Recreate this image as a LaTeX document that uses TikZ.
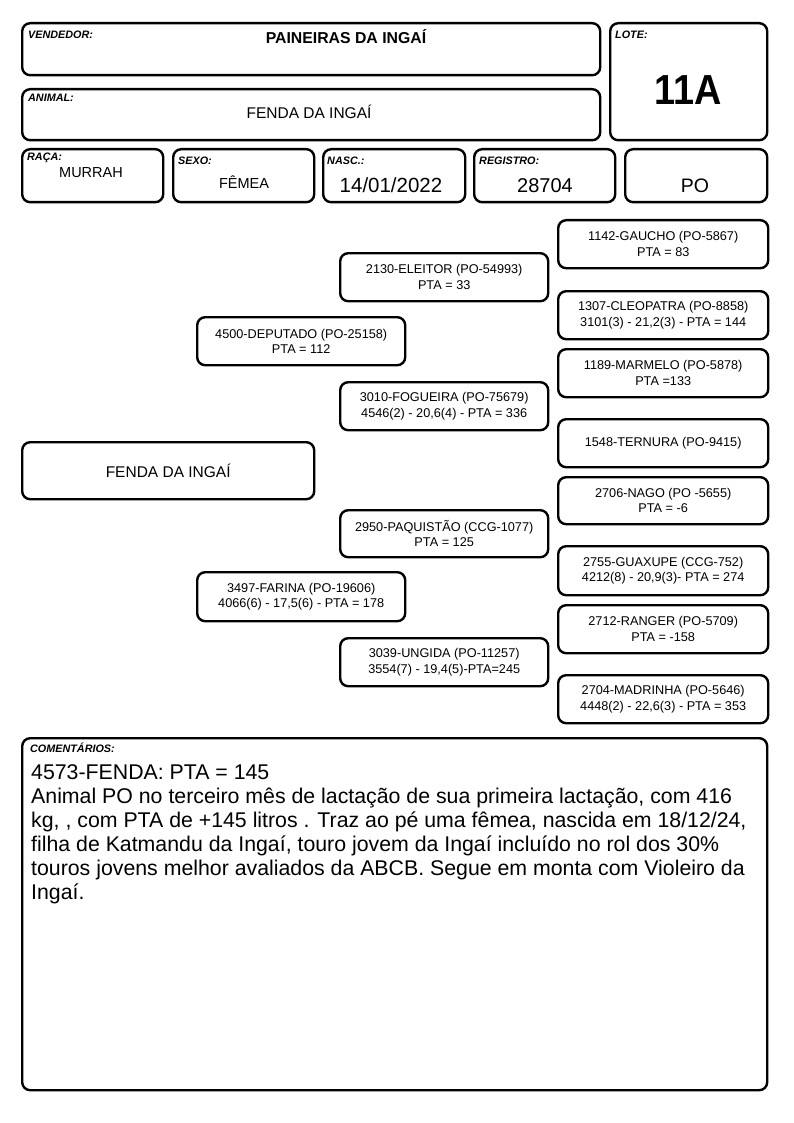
\documentclass[tikz,border=0pt]{standalone}
\usepackage{fontspec}
\usepackage{graphicx}
\setmainfont{Liberation Sans}
\begin{document}
\begin{tikzpicture}[x=1pt,y=-1pt,
  box/.style={draw, line width=2.4pt, rounded corners=8pt, inner sep=0pt, anchor=north west},
  lab/.style={font=\fontsize{10.8}{12}\selectfont\bfseries\itshape, anchor=base west, inner sep=0pt},
  val/.style={anchor=base, inner sep=0pt},
  ped/.style={box, minimum width=208pt, minimum height=48pt, align=center, font=\fontsize{12.7}{15.5}\selectfont},
  pedr/.style={ped, minimum width=210pt}]
\useasboundingbox (0,0) rectangle (794,1123);
% header boxes
\node[box, minimum width=578pt, minimum height=52pt] (vend) at (21,22) {};
\node[box, minimum width=157pt, minimum height=117pt] (lote) at (609,22) {};
\node[box, minimum width=578pt, minimum height=51pt] (animal) at (21,88) {};
\node[box, minimum width=141pt, minimum height=53pt] (raca) at (21,148) {};
\node[box, minimum width=141pt, minimum height=53pt] (sexo) at (172,148) {};
\node[box, minimum width=142pt, minimum height=53pt] (nasc) at (322,148) {};
\node[box, minimum width=141pt, minimum height=53pt] (reg) at (473,148) {};
\node[box, minimum width=142pt, minimum height=53pt] (po) at (624,148) {};
% labels
\node[lab] (lvend) at (28,39) {VENDEDOR:};
\node[lab] (llote) at (615,39) {LOTE:};
\node[lab] (lanimal) at (28,102) {ANIMAL:};
\node[lab] (lraca) at (27,161) {RAÇA:};
\node[lab] (lsexo) at (178,165) {SEXO:};
\node[lab] (lnasc) at (327,165) {NASC.:};
\node[lab] (lreg) at (479,165) {REGISTRO:};
% values
\node[val, font=\fontsize{15.8}{18}\selectfont\bfseries] (vvend) at (346,43.5) {PAINEIRAS DA INGAÍ};
\node[val, font=\fontsize{42}{42}\selectfont\bfseries] (vlote) at (688.5,105) {\scalebox{0.9}[1]{11A}};
\node[val, font=\fontsize{15.5}{18}\selectfont] (vanimal) at (309,119) {FENDA DA INGAÍ};
\node[val, font=\fontsize{14.5}{17}\selectfont] (vraca) at (91,178) {MURRAH};
\node[val, font=\fontsize{14.5}{17}\selectfont] (vsexo) at (244,189) {FÊMEA};
\node[val, font=\fontsize{20.5}{24}\selectfont] (vnasc) at (391,193) {14/01/2022};
\node[val, font=\fontsize{20}{24}\selectfont] (vreg) at (545,193) {28704};
\node[val, font=\fontsize{19.5}{24}\selectfont] (vpo) at (695,193) {PO};
% pedigree
\node[box, minimum width=292pt, minimum height=57pt, font=\fontsize{15.5}{18}\selectfont] (fenda) at (21,441) {FENDA DA INGAÍ};
\node[ped] (deputado) at (196,316) {4500-DEPUTADO (PO-25158)\\PTA = 112};
\node[ped, minimum height=49pt] (farina) at (196,571) {3497-FARINA (PO-19606)\\4066(6) - 17,5(6) - PTA = 178};
\node[ped] (eleitor) at (339,252) {2130-ELEITOR (PO-54993)\\PTA = 33};
\node[ped] (fogueira) at (339,381) {3010-FOGUEIRA (PO-75679)\\4546(2) - 20,6(4) - PTA = 336};
\node[ped, minimum height=47pt] (paquistao) at (339,509) {2950-PAQUISTÃO (CCG-1077)\\PTA = 125};
\node[ped] (ungida) at (339,637) {3039-UNGIDA (PO-11257)\\3554(7) - 19,4(5)-PTA=245};
\node[pedr] (gaucho) at (557,219) {1142-GAUCHO (PO-5867)\\PTA = 83};
\node[pedr] (cleopatra) at (557,290) {1307-CLEOPATRA (PO-8858)\\3101(3) - 21,2(3) - PTA = 144};
\node[pedr] (marmelo) at (557,348) {1189-MARMELO (PO-5878)\\PTA =133};
\node[pedr] (ternura) at (557,418) {1548-TERNURA (PO-9415)};
\node[pedr, minimum height=47pt] (nago) at (557,476) {2706-NAGO (PO -5655)\\PTA = -6};
\node[pedr, minimum height=49pt] (guaxupe) at (557,545) {2755-GUAXUPE (CCG-752)\\4212(8) - 20,9(3)- PTA = 274};
\node[pedr] (ranger) at (557,604) {2712-RANGER (PO-5709)\\PTA = -158};
\node[pedr] (madrinha) at (557,674) {2704-MADRINHA (PO-5646)\\4448(2) - 22,6(3) - PTA = 353};
% comments
\node[box, minimum width=745pt, minimum height=352pt] (coment) at (21,737) {};
\node[lab] (lcoment) at (30,752) {COMENTÁRIOS:};
\node[anchor=north west, inner sep=0pt, align=left, font=\fontsize{21.3}{24}\selectfont] (tcoment) at (31,764.7) {4573-FENDA: PTA = 145\\
Animal PO no terceiro mês de lactação de sua primeira lactação, com 416\\
kg, , com PTA de +145 litros . Traz ao pé uma fêmea, nascida em 18/12/24,\\
filha de Katmandu da Ingaí, touro jovem da Ingaí incluído no rol dos 30\%\\
touros jovens melhor avaliados da ABCB. Segue em monta com Violeiro da\\
Ingaí.};
\end{tikzpicture}
\end{document}
